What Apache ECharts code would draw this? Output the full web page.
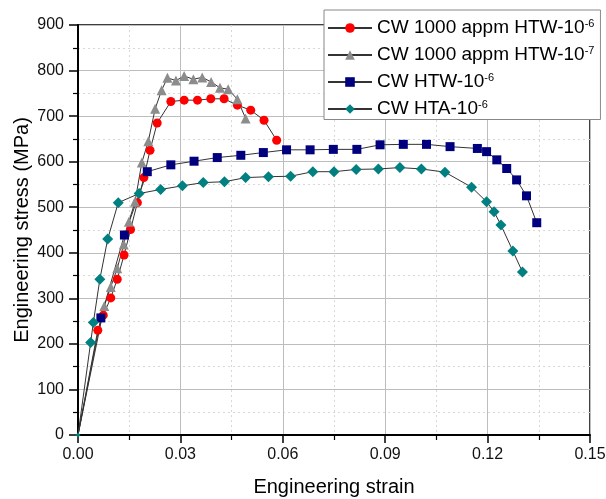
<!DOCTYPE html>
<html>
<head>
<meta charset="utf-8">
<script src="https://cdn.jsdelivr.net/npm/echarts@6/dist/echarts.min.js"></script>
<style>
html,body{margin:0;padding:0;background:#fff;}
#chart{width:606px;height:499px;}
</style>
</head>
<body>
<div id="chart"></div>
<script>
// Series names (base text + superscript exponent)
const seriesNames = ['CW 1000 appm HTW-10^-6', 'CW 1000 appm HTW-10^-7', 'CW HTW-10^-6', 'CW HTA-10^-6'];

// Axis ticks
const xTicks = [0, 0.03, 0.06, 0.09, 0.12, 0.15];
const yTicks = [0, 100, 200, 300, 400, 500, 600, 700, 800, 900];

// CW 1000 appm HTW-10^-6 (red circles)
const redX = [0, 0.0058, 0.0074, 0.0096, 0.0115, 0.0135, 0.0154, 0.0174, 0.0193, 0.0211, 0.0232, 0.0272, 0.0311, 0.0350, 0.0389, 0.0428, 0.0467, 0.0506, 0.0545, 0.0582];
const redY = [0, 230, 263, 301, 342, 395, 451, 510, 565, 625, 685, 732, 735, 735, 738, 738, 724, 713, 691, 647];

// CW 1000 appm HTW-10^-7 (gray triangles)
const grayX = [0, 0.0077, 0.0096, 0.0115, 0.0134, 0.0149, 0.0167, 0.0187, 0.0206, 0.0226, 0.0245, 0.0262, 0.0287, 0.0311, 0.0338, 0.0364, 0.0390, 0.0416, 0.0440, 0.0467, 0.0491];
const grayY = [0, 283, 325, 366, 418, 468, 512, 598, 645, 716, 757, 784, 778, 788, 781, 785, 775, 762, 759, 737, 695];

// CW HTW-10^-6 (navy squares)
const blueX = [0, 0.0067, 0.0136, 0.0203, 0.0272, 0.0340, 0.0408, 0.0477, 0.0543, 0.0611, 0.0680, 0.0748, 0.0817, 0.0885, 0.0953, 0.1021, 0.1090, 0.1170, 0.1197, 0.1227, 0.1256, 0.1285, 0.1314, 0.1344];
const blueY = [0, 257, 439, 578, 593, 601, 609, 614, 620, 626, 626, 627, 627, 637, 638, 638, 633, 629, 622, 604, 585, 560, 525, 466];

// CW HTA-10^-6 (teal diamonds)
const tealX = [0, 0.0037, 0.0045, 0.0064, 0.0087, 0.0118, 0.0179, 0.0242, 0.0306, 0.0367, 0.0429, 0.0491, 0.0558, 0.0623, 0.0688, 0.0750, 0.0815, 0.0880, 0.0943, 0.1006, 0.1075, 0.1153, 0.1197, 0.1219, 0.1239, 0.1274, 0.1302];
const tealY = [0, 203, 247, 342, 430, 510, 530, 539, 547, 554, 556, 565, 567, 568, 578, 578, 583, 584, 587, 584, 577, 544, 512, 490, 461, 404, 358];

function pairs(xs, ys) { return xs.map((x, i) => [x, ys[i]]); }

const FONT = '"Liberation Sans", Arial, sans-serif';

function mkSeries(name, xs, ys, symbol, size, color, originSize) {
  return {
    name: name,
    type: 'line',
    data: pairs(xs, ys),
    symbol: symbol,
    symbolSize: (v, p) => (p.dataIndex === 0 ? originSize : size),
    showAllSymbol: true,
    lineStyle: { color: '#333', width: 1 },
    itemStyle: { color: color, borderWidth: 0, opacity: 1 },
    clip: true,
    animation: false
  };
}

const chart = echarts.init(document.getElementById('chart'), null, { renderer: 'canvas' });

const option = {
  backgroundColor: '#fff',
  animation: false,
  textStyle: { fontFamily: FONT },
  grid: {
    left: 78, right: 16, top: 25, bottom: 64,
    outerBoundsMode: 'none',
    containLabel: false,
    show: true, borderColor: '#000', borderWidth: 1.5, backgroundColor: 'transparent'
  },
  legend: {
    orient: 'vertical',
    left: 324, top: 10,
    backgroundColor: '#fff',
    borderColor: '#888', borderWidth: 1,
    padding: [8, 6, 1, 3],
    itemGap: 7.5,
    itemWidth: 44, itemHeight: 12,
    data: seriesNames,
    formatter: function (name) {
      const parts = name.split('^');
      return '{a|' + parts[0] + '}{s|' + parts[1] + '}';
    },
    textStyle: {
      color: '#000', fontFamily: FONT, fontSize: 19,
      rich: {
        a: { fontSize: 19, fontFamily: FONT, color: '#000', lineHeight: 20 },
        s: { fontSize: 11, fontFamily: FONT, color: '#000', verticalAlign: 'top', lineHeight: 12, padding: [0, 0, 8, 0] }
      }
    },
    z: 10
  },
  xAxis: {
    type: 'value',
    min: xTicks[0], max: xTicks[xTicks.length - 1], interval: 0.03,
    name: 'Engineering strain',
    nameLocation: 'middle', nameGap: 42, nameMoveOverlap: false,
    nameTextStyle: { fontSize: 20, color: '#000', fontFamily: FONT },
    axisLine: { show: true, onZero: false, lineStyle: { color: '#000', width: 2 } },
    axisTick: { show: true, inside: false, length: 8, lineStyle: { color: '#000', width: 1.5 } },
    minorTick: { show: true, splitNumber: 2, length: 5, lineStyle: { color: '#000', width: 1.2 } },
    axisLabel: { fontSize: 16, color: '#111', margin: 12, fontFamily: FONT, formatter: v => v.toFixed(2) },
    splitLine: { show: true, lineStyle: { color: '#bdbdbd', width: 1 } },
    minorSplitLine: { show: true, lineStyle: { color: '#d8d8d8', width: 1, type: [2, 3] } }
  },
  yAxis: {
    type: 'value',
    min: yTicks[0], max: yTicks[yTicks.length - 1], interval: 100,
    name: 'Engineering stress (MPa)',
    nameLocation: 'middle', nameGap: 46, nameMoveOverlap: false,
    nameTextStyle: { fontSize: 20, color: '#000', fontFamily: FONT },
    axisLine: { show: true, onZero: false, lineStyle: { color: '#000', width: 2 } },
    axisTick: { show: true, inside: false, length: 9, lineStyle: { color: '#000', width: 1.5 } },
    minorTick: { show: true, splitNumber: 2, length: 5, lineStyle: { color: '#000', width: 1.2 } },
    axisLabel: { fontSize: 16, color: '#111', margin: 14, fontFamily: FONT },
    splitLine: { show: true, lineStyle: { color: '#bdbdbd', width: 1 } },
    minorSplitLine: { show: true, lineStyle: { color: '#d8d8d8', width: 1, type: [2, 3] } }
  },
  series: [
    mkSeries(seriesNames[0], redX, redY, 'circle', 9, '#ff0000', 0),
    mkSeries(seriesNames[1], grayX, grayY, 'triangle', 10, '#8c8c8c', 0),
    mkSeries(seriesNames[2], blueX, blueY, 'rect', 9, '#00007f', 0),
    mkSeries(seriesNames[3], tealX, tealY, 'diamond', 11, '#008080', 5)
  ]
};

chart.setOption(option);
</script>
</body>
</html>
